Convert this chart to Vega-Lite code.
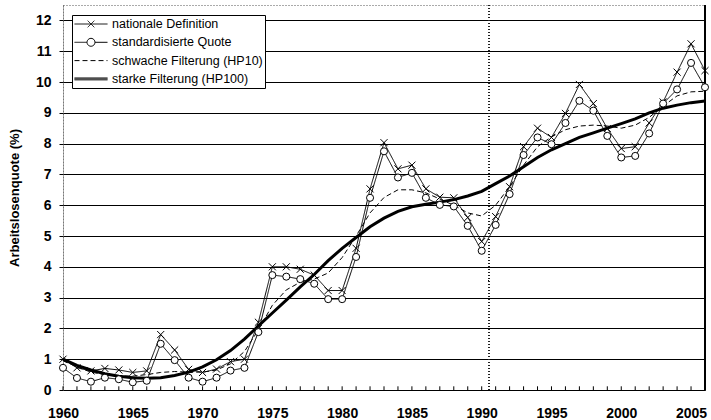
{
  "$schema": "https://vega.github.io/schema/vega-lite/v6.json",
  "width": 642,
  "height": 385,
  "autosize": {"type": "none"},
  "padding": {"left": 63, "top": 5, "right": 6, "bottom": 30},
  "background": "white",
  "config": {
    "view": {"stroke": "#555", "strokeDash": [1, 2], "strokeWidth": 1},
    "font": "Liberation Sans"
  },
  "datasets": {
    "rows": [
      {"year": 1960, "series": "nationale Definition", "value": 1.0},
      {"year": 1961, "series": "nationale Definition", "value": 0.72},
      {"year": 1962, "series": "nationale Definition", "value": 0.62},
      {"year": 1963, "series": "nationale Definition", "value": 0.7},
      {"year": 1964, "series": "nationale Definition", "value": 0.65},
      {"year": 1965, "series": "nationale Definition", "value": 0.57},
      {"year": 1966, "series": "nationale Definition", "value": 0.62},
      {"year": 1967, "series": "nationale Definition", "value": 1.8},
      {"year": 1968, "series": "nationale Definition", "value": 1.3},
      {"year": 1969, "series": "nationale Definition", "value": 0.67},
      {"year": 1970, "series": "nationale Definition", "value": 0.57},
      {"year": 1971, "series": "nationale Definition", "value": 0.68},
      {"year": 1972, "series": "nationale Definition", "value": 0.92},
      {"year": 1973, "series": "nationale Definition", "value": 1.0},
      {"year": 1974, "series": "nationale Definition", "value": 2.2},
      {"year": 1975, "series": "nationale Definition", "value": 4.0},
      {"year": 1976, "series": "nationale Definition", "value": 4.0},
      {"year": 1977, "series": "nationale Definition", "value": 3.92},
      {"year": 1978, "series": "nationale Definition", "value": 3.73},
      {"year": 1979, "series": "nationale Definition", "value": 3.23},
      {"year": 1980, "series": "nationale Definition", "value": 3.23},
      {"year": 1981, "series": "nationale Definition", "value": 4.6},
      {"year": 1982, "series": "nationale Definition", "value": 6.53},
      {"year": 1983, "series": "nationale Definition", "value": 8.03},
      {"year": 1984, "series": "nationale Definition", "value": 7.18},
      {"year": 1985, "series": "nationale Definition", "value": 7.3},
      {"year": 1986, "series": "nationale Definition", "value": 6.53},
      {"year": 1987, "series": "nationale Definition", "value": 6.26},
      {"year": 1988, "series": "nationale Definition", "value": 6.24},
      {"year": 1989, "series": "nationale Definition", "value": 5.6},
      {"year": 1990, "series": "nationale Definition", "value": 4.82},
      {"year": 1991, "series": "nationale Definition", "value": 5.63},
      {"year": 1992, "series": "nationale Definition", "value": 6.6},
      {"year": 1993, "series": "nationale Definition", "value": 7.9},
      {"year": 1994, "series": "nationale Definition", "value": 8.5},
      {"year": 1995, "series": "nationale Definition", "value": 8.2},
      {"year": 1996, "series": "nationale Definition", "value": 8.98},
      {"year": 1997, "series": "nationale Definition", "value": 9.92},
      {"year": 1998, "series": "nationale Definition", "value": 9.3},
      {"year": 1999, "series": "nationale Definition", "value": 8.49},
      {"year": 2000, "series": "nationale Definition", "value": 7.84},
      {"year": 2001, "series": "nationale Definition", "value": 7.9},
      {"year": 2002, "series": "nationale Definition", "value": 8.67},
      {"year": 2003, "series": "nationale Definition", "value": 9.35},
      {"year": 2004, "series": "nationale Definition", "value": 10.32},
      {"year": 2005, "series": "nationale Definition", "value": 11.24},
      {"year": 2006, "series": "nationale Definition", "value": 10.37},
      {"year": 1960, "series": "standardisierte Quote", "value": 0.72},
      {"year": 1961, "series": "standardisierte Quote", "value": 0.39},
      {"year": 1962, "series": "standardisierte Quote", "value": 0.27},
      {"year": 1963, "series": "standardisierte Quote", "value": 0.4},
      {"year": 1964, "series": "standardisierte Quote", "value": 0.35},
      {"year": 1965, "series": "standardisierte Quote", "value": 0.25},
      {"year": 1966, "series": "standardisierte Quote", "value": 0.3},
      {"year": 1967, "series": "standardisierte Quote", "value": 1.5},
      {"year": 1968, "series": "standardisierte Quote", "value": 0.97},
      {"year": 1969, "series": "standardisierte Quote", "value": 0.4},
      {"year": 1970, "series": "standardisierte Quote", "value": 0.27},
      {"year": 1971, "series": "standardisierte Quote", "value": 0.4},
      {"year": 1972, "series": "standardisierte Quote", "value": 0.63},
      {"year": 1973, "series": "standardisierte Quote", "value": 0.72},
      {"year": 1974, "series": "standardisierte Quote", "value": 1.88},
      {"year": 1975, "series": "standardisierte Quote", "value": 3.73},
      {"year": 1976, "series": "standardisierte Quote", "value": 3.68},
      {"year": 1977, "series": "standardisierte Quote", "value": 3.6},
      {"year": 1978, "series": "standardisierte Quote", "value": 3.45},
      {"year": 1979, "series": "standardisierte Quote", "value": 2.95},
      {"year": 1980, "series": "standardisierte Quote", "value": 2.95},
      {"year": 1981, "series": "standardisierte Quote", "value": 4.32},
      {"year": 1982, "series": "standardisierte Quote", "value": 6.24},
      {"year": 1983, "series": "standardisierte Quote", "value": 7.75},
      {"year": 1984, "series": "standardisierte Quote", "value": 6.9},
      {"year": 1985, "series": "standardisierte Quote", "value": 7.05},
      {"year": 1986, "series": "standardisierte Quote", "value": 6.24},
      {"year": 1987, "series": "standardisierte Quote", "value": 6.01},
      {"year": 1988, "series": "standardisierte Quote", "value": 5.96},
      {"year": 1989, "series": "standardisierte Quote", "value": 5.33},
      {"year": 1990, "series": "standardisierte Quote", "value": 4.52},
      {"year": 1991, "series": "standardisierte Quote", "value": 5.36},
      {"year": 1992, "series": "standardisierte Quote", "value": 6.36},
      {"year": 1993, "series": "standardisierte Quote", "value": 7.63},
      {"year": 1994, "series": "standardisierte Quote", "value": 8.2},
      {"year": 1995, "series": "standardisierte Quote", "value": 7.98},
      {"year": 1996, "series": "standardisierte Quote", "value": 8.67},
      {"year": 1997, "series": "standardisierte Quote", "value": 9.39},
      {"year": 1998, "series": "standardisierte Quote", "value": 9.07},
      {"year": 1999, "series": "standardisierte Quote", "value": 8.25},
      {"year": 2000, "series": "standardisierte Quote", "value": 7.55},
      {"year": 2001, "series": "standardisierte Quote", "value": 7.6},
      {"year": 2002, "series": "standardisierte Quote", "value": 8.33},
      {"year": 2003, "series": "standardisierte Quote", "value": 9.3},
      {"year": 2004, "series": "standardisierte Quote", "value": 9.76},
      {"year": 2005, "series": "standardisierte Quote", "value": 10.62},
      {"year": 2006, "series": "standardisierte Quote", "value": 9.83},
      {"year": 1960, "series": "schwache Filterung (HP10)", "value": 0.95},
      {"year": 1961, "series": "schwache Filterung (HP10)", "value": 0.75},
      {"year": 1962, "series": "schwache Filterung (HP10)", "value": 0.58},
      {"year": 1963, "series": "schwache Filterung (HP10)", "value": 0.5},
      {"year": 1964, "series": "schwache Filterung (HP10)", "value": 0.46},
      {"year": 1965, "series": "schwache Filterung (HP10)", "value": 0.45},
      {"year": 1966, "series": "schwache Filterung (HP10)", "value": 0.5},
      {"year": 1967, "series": "schwache Filterung (HP10)", "value": 0.57},
      {"year": 1968, "series": "schwache Filterung (HP10)", "value": 0.6},
      {"year": 1969, "series": "schwache Filterung (HP10)", "value": 0.58},
      {"year": 1970, "series": "schwache Filterung (HP10)", "value": 0.58},
      {"year": 1971, "series": "schwache Filterung (HP10)", "value": 0.65},
      {"year": 1972, "series": "schwache Filterung (HP10)", "value": 0.85},
      {"year": 1973, "series": "schwache Filterung (HP10)", "value": 1.25},
      {"year": 1974, "series": "schwache Filterung (HP10)", "value": 1.95},
      {"year": 1975, "series": "schwache Filterung (HP10)", "value": 2.75},
      {"year": 1976, "series": "schwache Filterung (HP10)", "value": 3.25},
      {"year": 1977, "series": "schwache Filterung (HP10)", "value": 3.5},
      {"year": 1978, "series": "schwache Filterung (HP10)", "value": 3.6},
      {"year": 1979, "series": "schwache Filterung (HP10)", "value": 3.8},
      {"year": 1980, "series": "schwache Filterung (HP10)", "value": 4.3},
      {"year": 1981, "series": "schwache Filterung (HP10)", "value": 5.0},
      {"year": 1982, "series": "schwache Filterung (HP10)", "value": 5.75},
      {"year": 1983, "series": "schwache Filterung (HP10)", "value": 6.25},
      {"year": 1984, "series": "schwache Filterung (HP10)", "value": 6.5},
      {"year": 1985, "series": "schwache Filterung (HP10)", "value": 6.5},
      {"year": 1986, "series": "schwache Filterung (HP10)", "value": 6.4},
      {"year": 1987, "series": "schwache Filterung (HP10)", "value": 6.2},
      {"year": 1988, "series": "schwache Filterung (HP10)", "value": 6.0},
      {"year": 1989, "series": "schwache Filterung (HP10)", "value": 5.75},
      {"year": 1990, "series": "schwache Filterung (HP10)", "value": 5.65},
      {"year": 1991, "series": "schwache Filterung (HP10)", "value": 6.0},
      {"year": 1992, "series": "schwache Filterung (HP10)", "value": 6.6},
      {"year": 1993, "series": "schwache Filterung (HP10)", "value": 7.3},
      {"year": 1994, "series": "schwache Filterung (HP10)", "value": 7.9},
      {"year": 1995, "series": "schwache Filterung (HP10)", "value": 8.22},
      {"year": 1996, "series": "schwache Filterung (HP10)", "value": 8.45},
      {"year": 1997, "series": "schwache Filterung (HP10)", "value": 8.57},
      {"year": 1998, "series": "schwache Filterung (HP10)", "value": 8.6},
      {"year": 1999, "series": "schwache Filterung (HP10)", "value": 8.57},
      {"year": 2000, "series": "schwache Filterung (HP10)", "value": 8.5},
      {"year": 2001, "series": "schwache Filterung (HP10)", "value": 8.6},
      {"year": 2002, "series": "schwache Filterung (HP10)", "value": 8.85},
      {"year": 2003, "series": "schwache Filterung (HP10)", "value": 9.22},
      {"year": 2004, "series": "schwache Filterung (HP10)", "value": 9.55},
      {"year": 2005, "series": "schwache Filterung (HP10)", "value": 9.68},
      {"year": 2006, "series": "schwache Filterung (HP10)", "value": 9.7},
      {"year": 1960, "series": "starke Filterung (HP100)", "value": 1.0},
      {"year": 1961, "series": "starke Filterung (HP100)", "value": 0.8},
      {"year": 1962, "series": "starke Filterung (HP100)", "value": 0.65},
      {"year": 1963, "series": "starke Filterung (HP100)", "value": 0.53},
      {"year": 1964, "series": "starke Filterung (HP100)", "value": 0.45},
      {"year": 1965, "series": "starke Filterung (HP100)", "value": 0.4},
      {"year": 1966, "series": "starke Filterung (HP100)", "value": 0.38},
      {"year": 1967, "series": "starke Filterung (HP100)", "value": 0.4},
      {"year": 1968, "series": "starke Filterung (HP100)", "value": 0.47},
      {"year": 1969, "series": "starke Filterung (HP100)", "value": 0.58},
      {"year": 1970, "series": "starke Filterung (HP100)", "value": 0.75},
      {"year": 1971, "series": "starke Filterung (HP100)", "value": 0.98},
      {"year": 1972, "series": "starke Filterung (HP100)", "value": 1.28},
      {"year": 1973, "series": "starke Filterung (HP100)", "value": 1.65},
      {"year": 1974, "series": "starke Filterung (HP100)", "value": 2.08},
      {"year": 1975, "series": "starke Filterung (HP100)", "value": 2.5},
      {"year": 1976, "series": "starke Filterung (HP100)", "value": 2.92},
      {"year": 1977, "series": "starke Filterung (HP100)", "value": 3.35},
      {"year": 1978, "series": "starke Filterung (HP100)", "value": 3.75},
      {"year": 1979, "series": "starke Filterung (HP100)", "value": 4.2},
      {"year": 1980, "series": "starke Filterung (HP100)", "value": 4.6},
      {"year": 1981, "series": "starke Filterung (HP100)", "value": 4.95},
      {"year": 1982, "series": "starke Filterung (HP100)", "value": 5.3},
      {"year": 1983, "series": "starke Filterung (HP100)", "value": 5.58},
      {"year": 1984, "series": "starke Filterung (HP100)", "value": 5.8},
      {"year": 1985, "series": "starke Filterung (HP100)", "value": 5.95},
      {"year": 1986, "series": "starke Filterung (HP100)", "value": 6.03},
      {"year": 1987, "series": "starke Filterung (HP100)", "value": 6.1},
      {"year": 1988, "series": "starke Filterung (HP100)", "value": 6.18},
      {"year": 1989, "series": "starke Filterung (HP100)", "value": 6.3},
      {"year": 1990, "series": "starke Filterung (HP100)", "value": 6.45},
      {"year": 1991, "series": "starke Filterung (HP100)", "value": 6.7},
      {"year": 1992, "series": "starke Filterung (HP100)", "value": 6.95},
      {"year": 1993, "series": "starke Filterung (HP100)", "value": 7.25},
      {"year": 1994, "series": "starke Filterung (HP100)", "value": 7.55},
      {"year": 1995, "series": "starke Filterung (HP100)", "value": 7.8},
      {"year": 1996, "series": "starke Filterung (HP100)", "value": 8.0},
      {"year": 1997, "series": "starke Filterung (HP100)", "value": 8.2},
      {"year": 1998, "series": "starke Filterung (HP100)", "value": 8.35},
      {"year": 1999, "series": "starke Filterung (HP100)", "value": 8.5},
      {"year": 2000, "series": "starke Filterung (HP100)", "value": 8.65},
      {"year": 2001, "series": "starke Filterung (HP100)", "value": 8.8},
      {"year": 2002, "series": "starke Filterung (HP100)", "value": 9.0},
      {"year": 2003, "series": "starke Filterung (HP100)", "value": 9.15},
      {"year": 2004, "series": "starke Filterung (HP100)", "value": 9.25},
      {"year": 2005, "series": "starke Filterung (HP100)", "value": 9.33},
      {"year": 2006, "series": "starke Filterung (HP100)", "value": 9.38}
    ]
  },
  "data": {"name": "rows"},
  "encoding": {
    "x": {
      "field": "year",
      "type": "quantitative",
      "scale": {"domain": [1960, 2006], "nice": false, "zero": false},
      "axis": {
        "title": null,
        "tickCount": 10,
        "format": "d",
        "grid": false,
        "ticks": false,
        "domainColor": "black",
        "labelFont": "Liberation Sans",
        "labelFontSize": 14,
        "labelFontWeight": "bold",
        "labelColor": "black",
        "labelPadding": 16,
        "labelFlush": false
      }
    },
    "y": {
      "field": "value",
      "type": "quantitative",
      "scale": {"domain": [0, 12.5], "nice": false},
      "axis": {
        "title": "Arbeitslosenquote (%)",
        "titleFont": "Liberation Sans",
        "titleFontSize": 13,
        "titleFontWeight": "bold",
        "titleColor": "black",
        "titlePadding": 14,
        "tickCount": 13,
        "format": "d",
        "grid": true,
        "gridColor": "black",
        "gridWidth": 1,
        "tickSize": 4,
        "tickColor": "black",
        "domainColor": "#444",
        "domainDash": [1, 2],
        "labelFont": "Liberation Sans",
        "labelFontSize": 14,
        "labelFontWeight": "bold",
        "labelColor": "black",
        "labelPadding": 8
      }
    }
  },
  "layer": [
    {
      "mark": {"type": "rule", "color": "#222", "strokeWidth": 1, "strokeDash": [1, 2]},
      "encoding": {
        "x": {"datum": 1990.5, "type": "quantitative"},
        "y": {"datum": 0, "type": "quantitative"},
        "y2": {"datum": 12.5}
      }
    },
    {
      "mark": {"type": "rule", "color": "black", "strokeWidth": 1},
      "encoding": {
        "x": {"datum": 2006, "type": "quantitative"},
        "y": {"datum": 0, "type": "quantitative"},
        "y2": {"datum": 12.5}
      }
    },
    {
      "transform": [{"filter": {"field": "series", "equal": "starke Filterung (HP100)"}}],
      "mark": {"type": "rule", "color": "black", "strokeWidth": 1},
      "encoding": {
        "y": {"datum": 0, "type": "quantitative"},
        "y2": {"datum": 0.12}
      }
    },
    {
      "mark": {"type": "line", "color": "black", "strokeWidth": 1},
      "encoding": {
        "strokeDash": {
          "field": "series",
          "type": "nominal",
          "scale": {
            "domain": ["nationale Definition", "standardisierte Quote", "schwache Filterung (HP10)", "starke Filterung (HP100)"],
            "range": [[1, 0], [1, 0], [5, 3], [1, 0]]
          },
          "legend": {
            "title": null,
            "orient": "none",
            "legendX": 9,
            "legendY": 10,
            "direction": "vertical",
            "fillColor": "white",
            "strokeColor": "black",
            "padding": 2,
            "cornerRadius": 0,
            "symbolSize": 1089,
            "symbolStrokeColor": "black",
            "symbolStrokeWidth": 1,
            "clipHeight": 14,
            "rowPadding": 4.3,
            "labelOffset": 4,
            "labelFont": "Liberation Sans",
            "labelFontSize": 12.5,
            "labelColor": "black",
            "encode": {
              "symbols": {
                "update": {
                  "shape": {"signal": "datum.value === 'nationale Definition' ? 'M-1,0H1M-0.2,-0.2L0.2,0.2M-0.2,0.2L0.2,-0.2' : (datum.value === 'standardisierte Quote' ? 'M-1,0H-0.24M0.24,0H1M-0.24,0A0.24,0.24 0 1,1 0.24,0A0.24,0.24 0 1,1 -0.24,0' : (datum.value === 'starke Filterung (HP100)' ? 'M-1,-0.06H1M-1,0H1M-1,0.06H1' : 'M-1,0H1'))"},
                  "fill": {"value": "white"},
                  "stroke": {"value": "black"},
                  "opacity": {"value": 1}
                }
              }
            }
          }
        }
      }
    },
    {
      "transform": [{"filter": {"field": "series", "equal": "starke Filterung (HP100)"}}],
      "mark": {"type": "line", "color": "black", "strokeWidth": 3},
      "encoding": {}
    },
    {
      "transform": [{"filter": {"field": "series", "oneOf": ["nationale Definition", "standardisierte Quote"]}}],
      "mark": {"type": "point", "filled": true, "fill": "white", "stroke": "black", "strokeWidth": 1, "size": 50, "opacity": 1},
      "encoding": {
        "shape": {
          "field": "series",
          "type": "nominal",
          "scale": {
            "domain": ["nationale Definition", "standardisierte Quote"],
            "range": ["M-1,-1L1,1M-1,1L1,-1", "circle"]
          },
          "legend": null
        }
      }
    }
  ]
}
